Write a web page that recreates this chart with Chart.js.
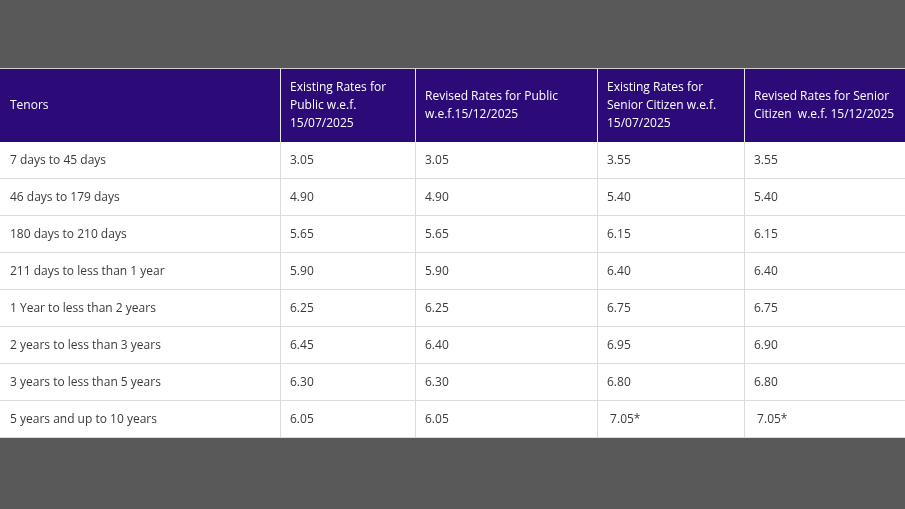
<!DOCTYPE html>
<html>
<head>
<meta charset="utf-8">
<script src="https://cdn.jsdelivr.net/npm/chart.js@4"></script>
<style>
  html, body { margin: 0; padding: 0; background: #595959; }
  #wrap { width: 905px; height: 509px; }
</style>
</head>
<body>
<div id="wrap"><canvas id="rates"></canvas></div>
<script>
// Données du tableau
const headers = [
  ["Tenors"],
  ["Existing Rates for", "Public w.e.f.", "15/07/2025"],
  ["Revised Rates for Public", "w.e.f.15/12/2025"],
  ["Existing Rates for", "Senior Citizen w.e.f.", "15/07/2025"],
  ["Revised Rates for Senior", "Citizen  w.e.f. 15/12/2025"]
]
const tenors = [
  "7 days to 45 days",
  "46 days to 179 days",
  "180 days to 210 days",
  "211 days to less than 1 year",
  "1 Year to less than 2 years",
  "2 years to less than 3 years",
  "3 years to less than 5 years",
  "5 years and up to 10 years"
]
const publicExisting = ["3.05", "4.90", "5.65", "5.90", "6.25", "6.45", "6.30", "6.05"]
const publicRevised = ["3.05", "4.90", "5.65", "5.90", "6.25", "6.40", "6.30", "6.05"]
const seniorExisting = ["3.55", "5.40", "6.15", "6.40", "6.75", "6.95", "6.80", " 7.05*"]
const seniorRevised = ["3.55", "5.40", "6.15", "6.40", "6.75", "6.90", "6.80", " 7.05*"]

const columns = [tenors, publicExisting, publicRevised, seniorExisting, seniorRevised]

// Mise en page
const colEdges = [0, 280, 415, 597, 744, 905]
const tableTop = 69
const headerH = 73
const rowH = 37

/* Plugin qui dessine le tableau dans le canvas */
const tablePlugin = {
  id: "table",
  afterDraw(chart) {
    const ctx = chart.ctx
    ctx.save()
    ctx.font = "12px 'Open Sans', sans-serif"
    ctx.textBaseline = "middle"

    // en-tête
    ctx.fillStyle = "#2c0b78"
    ctx.fillRect(0, tableTop, 905, headerH)
    ctx.fillStyle = "#d0d0d0"
    ctx.fillRect(0, tableTop - 1, 905, 1)
    for (let c = 0; c < headers.length; c++) {
      const lines = headers[c]
      const lh = 18
      const y0 = tableTop + headerH / 2 - ((lines.length - 1) * lh) / 2
      ctx.fillStyle = "#ffffff"
      lines.forEach((t, i) => ctx.fillText(t, colEdges[c] + 10, y0 + i * lh))
      if (c > 0) {
        ctx.fillStyle = "#e6e6e6"
        ctx.fillRect(colEdges[c], tableTop, 1, headerH)
      }
    }

    // corps
    const bodyTop = tableTop + headerH
    const n = tenors.length
    ctx.fillStyle = "#ffffff"
    ctx.fillRect(0, bodyTop, 905, n * rowH)
    ctx.fillStyle = "#dcdcdc"
    for (let r = 1; r <= n; r++) ctx.fillRect(0, bodyTop + r * rowH - 1, 905, 1)
    for (let c = 1; c < colEdges.length - 1; c++) ctx.fillRect(colEdges[c], bodyTop, 1, n * rowH)

    ctx.fillStyle = "#3a3a3a"
    for (let c = 0; c < columns.length; c++) {
      for (let r = 0; r < n; r++) {
        ctx.fillText(columns[c][r], colEdges[c] + 10, bodyTop + r * rowH + rowH / 2)
      }
    }
    ctx.restore()
  }
}

new Chart(document.querySelector("#rates"), {
  type: "bar",
  data: { labels: tenors, datasets: [] },
  options: {
    responsive: true,
    maintainAspectRatio: false,
    animation: false,
    layout: { padding: 0 },
    plugins: { legend: { display: false }, tooltip: { enabled: false } },
    scales: { x: { display: false }, y: { display: false } }
  },
  plugins: [tablePlugin]
})
</script>
</body>
</html>
